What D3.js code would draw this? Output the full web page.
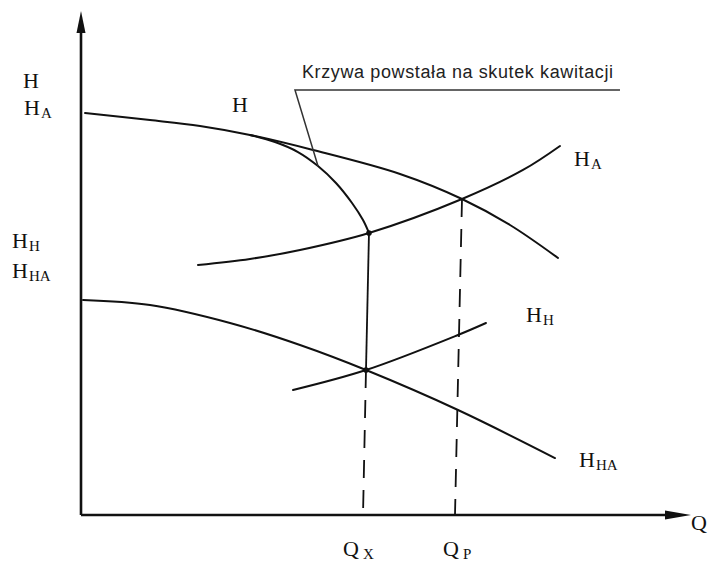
<!DOCTYPE html>
<html>
<head>
<meta charset="utf-8">
<script src="https://cdn.jsdelivr.net/npm/d3@7"></script>
<style>
  html, body { margin: 0; padding: 0; background: #fff; }
  svg { display: block; }
</style>
</head>
<body>
<div id="chart"></div>
<script>
// ---- data (Q and H in relative units, 0..100) ----
const pumpH      = [[0.66,80.08],[11.31,78.69],[19.51,77.49],[27.70,75.70],[38.03,72.71],[52.30,67.93],[62.46,62.95],[70.33,57.77],[78.20,51.20]];
const cavitation = [[27.70,75.70],[31.80,74.30],[35.57,72.31],[38.85,69.52],[41.80,66.14],[44.43,62.15],[46.23,58.76],[47.21,56.18]];
const systemHA   = [[19.18,49.80],[27.70,51.00],[35.90,52.79],[47.21,56.18],[62.46,62.95],[72.46,68.73],[78.52,73.51]];
const curveHHA   = [[0.33,42.83],[11.31,41.83],[24.43,38.25],[35.90,33.86],[46.72,28.88],[61.80,20.92],[77.70,11.35]];
const curveHH    = [[34.75,24.90],[46.72,28.88],[61.80,35.86],[66.39,38.25]];
const pointX     = [47.21, 56.18];
const pointXlow  = [46.72, 28.88];
const pointP     = [62.46, 62.95];
const qX = 46.23, qP = 61.31;
const annotationText = "Krzywa powstała na skutek kawitacji";
const leader = [[38.85,69.52],[35.08,84.66],[88.36,84.66]];
const labels = [
  {m: "H", s: ""},   {m: "H", s: "A"},  {m: "H", s: "H"}, {m: "H", s: "HA"},
  {m: "H", s: ""},   {m: "H", s: "A"},  {m: "H", s: "H"}, {m: "H", s: "HA"},
  {m: "Q", s: "X"},  {m: "Q", s: "P"},  {m: "Q", s: ""}
];
// label anchor positions (px)
const labelPos = [[23,88],[24,115],[12,248],[12,278],[232,112],[574,166],[526,322],[579,467],[343,556],[443,556],[691,530]];

const W = 708, H = 582;
const x = d3.scaleLinear().domain([0, 100]).range([81, 691]);
const y = d3.scaleLinear().domain([0, 100]).range([515, 13]);

const svg = d3.select("#chart").append("svg").attr("width", W).attr("height", H);
const ink = "#111";

// axes
svg.append("line").attr("x1", x(0)).attr("y1", y(0)).attr("x2", x(0)).attr("y2", 30)
  .attr("stroke", ink).attr("stroke-width", 2.6);
svg.append("path").attr("d", `M${x(0)},11 L${x(0)-4.5},33 L${x(0)+4.5},33 Z`).attr("fill", ink);
svg.append("line").attr("x1", x(0)).attr("y1", y(0)).attr("x2", 672).attr("y2", y(0))
  .attr("stroke", ink).attr("stroke-width", 2.6);
svg.append("path").attr("d", `M${x(100)},${y(0)} L665,${y(0)-4.5} L665,${y(0)+4.5} Z`).attr("fill", ink);

const line = d3.line().x(d => x(d[0])).y(d => y(d[1])).curve(d3.curveCatmullRom.alpha(0.5));
function curve(data) {
  svg.append("path").attr("d", line(data)).attr("fill", "none")
    .attr("stroke", ink).attr("stroke-width", 2).attr("stroke-linecap", "round");
}
curve(pumpH); curve(cavitation); curve(systemHA); curve(curveHHA); curve(curveHH);

// solid vertical link
svg.append("line").attr("x1", x(pointX[0])).attr("y1", y(pointX[1]))
  .attr("x2", x(pointXlow[0])).attr("y2", y(pointXlow[1])).attr("stroke", ink).attr("stroke-width", 1.8);

// dashed verticals
svg.append("line").attr("x1", x(pointXlow[0])).attr("y1", y(pointXlow[1]))
  .attr("x2", x(qX)).attr("y2", y(0)).attr("stroke", ink).attr("stroke-width", 1.8)
  .attr("stroke-dasharray", "18,12");
svg.append("line").attr("x1", x(pointP[0])).attr("y1", y(pointP[1]))
  .attr("x2", x(qP)).attr("y2", y(0)).attr("stroke", ink).attr("stroke-width", 1.8)
  .attr("stroke-dasharray", "18,12");

// dots
[pointX, pointXlow].forEach(p => svg.append("circle").attr("cx", x(p[0])).attr("cy", y(p[1])).attr("r", 2.8).attr("fill", ink));

// leader + annotation
svg.append("path").attr("d", d3.line().x(d => x(d[0])).y(d => y(d[1]))(leader))
  .attr("fill", "none").attr("stroke", "#333").attr("stroke-width", 1.5);
svg.append("text").attr("x", 302).attr("y", 78).attr("font-family", "Liberation Sans, Arial, sans-serif")
  .attr("font-size", 18).attr("fill", "#222").attr("textLength", 311).text(annotationText);

// serif labels with subscripts
const serif = "Liberation Serif, Times New Roman, serif";
labels.forEach((l, i) => {
  const t = svg.append("text").attr("x", labelPos[i][0]).attr("y", labelPos[i][1])
    .attr("font-family", serif).attr("font-size", 22).attr("fill", ink);
  t.append("tspan").text(l.m);
  if (l.s) t.append("tspan").attr("font-size", 15).attr("dx", l.m === "Q" ? 4 : 1).attr("dy", 3).text(l.s);
});
</script>
</body>
</html>
